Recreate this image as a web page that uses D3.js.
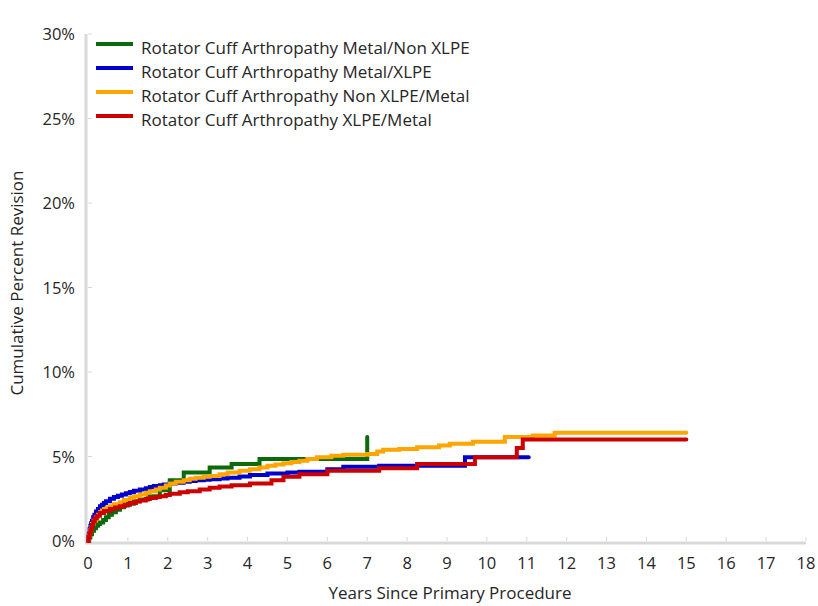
<!DOCTYPE html>
<html lang="en">
<head>
<meta charset="UTF-8">
<title>Cumulative Percent Revision</title>
<script src="https://d3js.org/d3.v7.min.js"></script>
<style>
    body { margin: 0; background: #fff; }
    svg { font-family: "Open Sans", "Noto Sans", sans-serif; }
    .tick-label { font-size: 16.5px; fill: #262626; }
    .axis-title { font-size: 17px; fill: #262626; }
    .legend-text { font-size: 17px; fill: #262626; }
</style>
</head>
<body>
<div id="chart"></div>
<script>
// data (years, cumulative % revision)
const seriesNames = [
    "Rotator Cuff Arthropathy Metal/Non XLPE",
    "Rotator Cuff Arthropathy Metal/XLPE",
    "Rotator Cuff Arthropathy Non XLPE/Metal",
    "Rotator Cuff Arthropathy XLPE/Metal"
];
const seriesColors = ["#0b6a0b", "#0000cc", "#ffa500", "#cc0000"];

const greenYears = [0, 0.03, 0.06, 0.1, 0.15, 0.2, 0.25, 0.3, 0.38, 0.45, 0.52, 0.6, 0.7, 0.8, 0.9, 1.0, 1.15, 1.3, 1.5, 1.8, 2.05, 2.4, 3.05, 3.6, 4.3, 7.0, 7.0];
const greenPct   = [0, 0.2, 0.4, 0.6, 0.75, 0.9, 1.0, 1.1, 1.25, 1.4, 1.55, 1.7, 1.85, 2.0, 2.1, 2.2, 2.35, 2.45, 2.65, 3.0, 3.6, 4.05, 4.35, 4.55, 4.85, 4.85, 6.15];

const blueYears = [0, 0.01, 0.02, 0.04, 0.06, 0.08, 0.1, 0.13, 0.16, 0.2, 0.25, 0.3, 0.35, 0.4, 0.45, 0.55, 0.65, 0.75, 0.85, 0.95, 1.05, 1.15, 1.3, 1.45, 1.55, 1.65, 1.8, 1.9, 2.05, 2.2, 2.4, 2.55, 2.7, 2.9, 3.05, 3.3, 3.5, 3.8, 4.06, 4.5, 5.0, 5.3, 6.0, 6.4, 7.3, 9.45, 11.05];
const bluePct   = [0, 0.25, 0.45, 0.7, 0.9, 1.05, 1.2, 1.4, 1.55, 1.75, 1.9, 2.05, 2.15, 2.25, 2.35, 2.5, 2.6, 2.68, 2.75, 2.82, 2.9, 2.97, 3.05, 3.12, 3.2, 3.25, 3.3, 3.35, 3.4, 3.45, 3.5, 3.55, 3.6, 3.63, 3.65, 3.7, 3.75, 3.82, 3.9, 4.0, 4.05, 4.1, 4.25, 4.4, 4.45, 4.95, 4.95];

const yellowYears = [0, 0.01, 0.02, 0.04, 0.06, 0.08, 0.1, 0.14, 0.2, 0.25, 0.3, 0.35, 0.4, 0.48, 0.55, 0.65, 0.8, 0.9, 1.05, 1.15, 1.3, 1.45, 1.55, 1.7, 1.8, 1.95, 2.05, 2.2, 2.4, 2.55, 2.7, 2.9, 3.05, 3.3, 3.5, 3.8, 4.06, 4.3, 4.5, 4.7, 4.9, 5.1, 5.3, 5.5, 5.74, 6.1, 6.4, 7.0, 7.25, 7.4, 7.8, 8.25, 8.8, 9.07, 9.65, 10.45, 11.15, 11.7, 15.0];
const yellowPct   = [0, 0.15, 0.3, 0.5, 0.65, 0.8, 1.0, 1.2, 1.4, 1.55, 1.7, 1.8, 1.9, 1.98, 2.05, 2.18, 2.3, 2.42, 2.55, 2.65, 2.75, 2.85, 2.95, 3.05, 3.15, 3.28, 3.4, 3.5, 3.6, 3.68, 3.75, 3.8, 3.85, 3.95, 4.05, 4.15, 4.25, 4.35, 4.45, 4.52, 4.6, 4.68, 4.75, 4.85, 4.95, 5.05, 5.1, 5.15, 5.3, 5.4, 5.45, 5.55, 5.65, 5.75, 5.88, 6.15, 6.25, 6.4, 6.4];

const redYears = [0, 0.01, 0.02, 0.04, 0.06, 0.08, 0.1, 0.13, 0.17, 0.22, 0.3, 0.4, 0.55, 0.68, 0.8, 0.92, 1.05, 1.2, 1.3, 1.45, 1.55, 1.7, 1.8, 1.95, 2.05, 2.3, 2.5, 2.8, 3.05, 3.3, 3.6, 4.06, 4.6, 4.9, 5.3, 6.0, 7.3, 8.25, 9.7, 10.75, 10.9, 15.0];
const redPct   = [0, 0.15, 0.25, 0.45, 0.6, 0.75, 0.95, 1.15, 1.35, 1.5, 1.65, 1.78, 1.9, 1.98, 2.05, 2.15, 2.25, 2.33, 2.4, 2.48, 2.55, 2.6, 2.65, 2.72, 2.8, 2.88, 2.95, 3.05, 3.15, 3.22, 3.3, 3.4, 3.6, 3.8, 3.95, 4.15, 4.3, 4.55, 4.95, 5.5, 6.0, 6.0];

const xTicks = d3.range(0, 19, 1);
const yTicks = [0, 5, 10, 15, 20, 25, 30];

const width = 818, height = 606;
const margin = { top: 34, right: 12, bottom: 65, left: 88 };

const x = d3.scaleLinear().domain([0, 18]).range([margin.left, width - margin.right]);
const y = d3.scaleLinear().domain([0, 30]).range([height - margin.bottom, margin.top]);

const svg = d3.select("#chart").append("svg")
    .attr("width", width)
    .attr("height", height);

// axis lines
svg.append("line")
    .attr("x1", x(0) - 2).attr("x2", x(0) - 2)
    .attr("y1", y(30)).attr("y2", y(0) + 2)
    .attr("stroke", "#d9d9d9").attr("stroke-width", 3);
svg.append("line")
    .attr("x1", x(0) - 3).attr("x2", x(18))
    .attr("y1", y(0) + 2).attr("y2", y(0) + 2)
    .attr("stroke", "#d9d9d9").attr("stroke-width", 3);

// tick marks (inside)
svg.selectAll(".xtick").data(xTicks.slice(1)).join("line")
    .attr("x1", d => x(d)).attr("x2", d => x(d))
    .attr("y1", y(0)).attr("y2", y(0) - 4)
    .attr("stroke", "#d9d9d9").attr("stroke-width", 1);
svg.selectAll(".ytick").data(yTicks.slice(1)).join("line")
    .attr("x1", x(0)).attr("x2", x(0) + 4)
    .attr("y1", d => y(d)).attr("y2", d => y(d))
    .attr("stroke", "#d9d9d9").attr("stroke-width", 1);

// tick labels
svg.selectAll(".xlab").data(xTicks).join("text")
    .attr("class", "tick-label")
    .attr("x", d => x(d)).attr("y", y(0) + 28)
    .attr("text-anchor", "middle")
    .text(d => d);
svg.selectAll(".ylab").data(yTicks).join("text")
    .attr("class", "tick-label")
    .attr("x", x(0) - 13).attr("y", d => y(d) + 6)
    .attr("text-anchor", "end")
    .text(d => d + "%");

// axis titles
svg.append("text").attr("class", "axis-title")
    .attr("x", 450).attr("y", 599)
    .attr("text-anchor", "middle")
    .text("Years Since Primary Procedure");
svg.append("text").attr("class", "axis-title")
    .attr("transform", "translate(23,283) rotate(-90)")
    .attr("text-anchor", "middle")
    .text("Cumulative Percent Revision");

// lines
const seriesData = [
    d3.zip(greenYears, greenPct),
    d3.zip(blueYears, bluePct),
    d3.zip(yellowYears, yellowPct),
    d3.zip(redYears, redPct)
];
const line = d3.line()
    .x(d => x(d[0]))
    .y(d => y(d[1]))
    .curve(d3.curveStepAfter);

svg.selectAll(".series").data(seriesData).join("path")
    .attr("fill", "none")
    .attr("stroke", (d, i) => seriesColors[i])
    .attr("stroke-width", 4)
    .attr("stroke-linejoin", "miter")
    .attr("stroke-linecap", "round")
    .attr("d", line);

// legend
const legend = svg.selectAll(".legend").data(seriesNames).join("g")
    .attr("transform", (d, i) => `translate(96,${44 + i * 24})`);
legend.append("line")
    .attr("x1", 0).attr("x2", 37)
    .attr("stroke", (d, i) => seriesColors[i])
    .attr("stroke-width", 4);
legend.append("text")
    .attr("class", "legend-text")
    .attr("x", 45).attr("y", 10)
    .text(d => d);
</script>
</body>
</html>
